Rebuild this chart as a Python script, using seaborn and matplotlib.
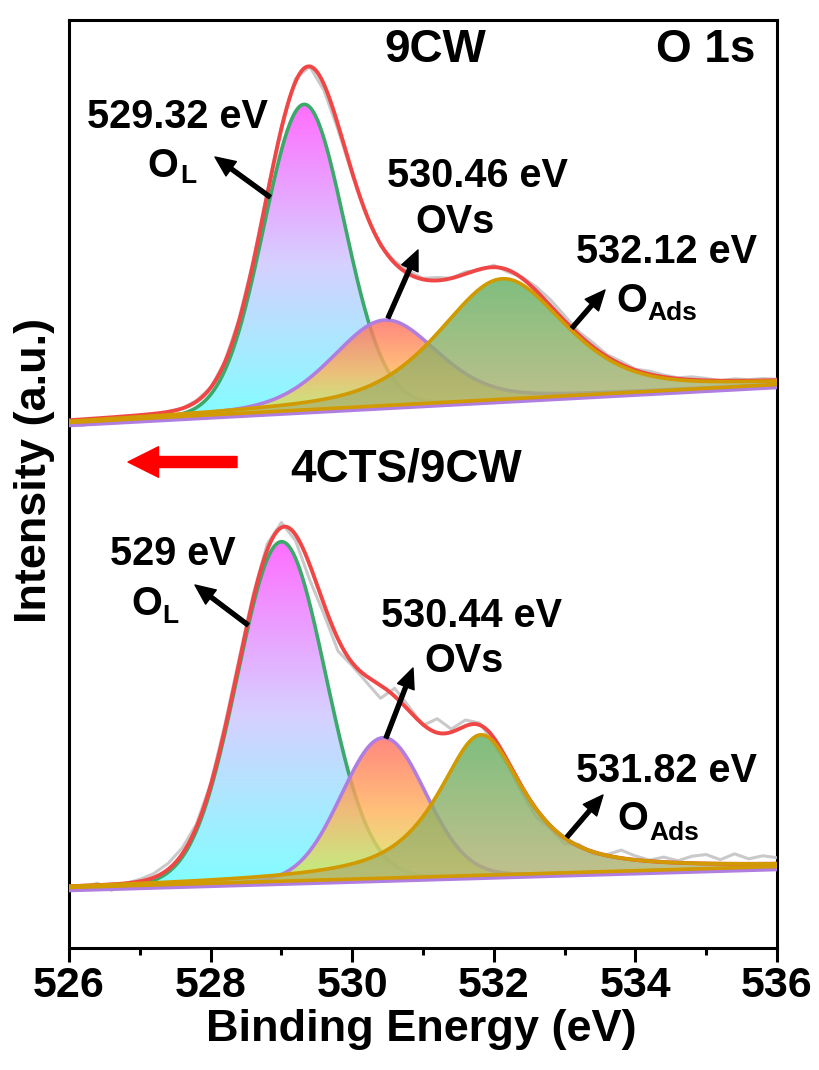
import numpy as np
import matplotlib
matplotlib.use("Agg")
import matplotlib.pyplot as plt
import seaborn as sns
from matplotlib.colors import LinearSegmentedColormap

# ---------------- data ----------------
X_MIN, X_MAX = 526, 536
X_TICKS = [526, 528, 530, 532, 534, 536]
X_MINOR = [527, 529, 531, 533, 535]

# upper spectrum: 9CW
TOP_BASELINE = [525, 563]            # linear background at 526 eV and 536 eV
TOP_CENTERS = [529.32, 530.46, 532.12]
TOP_HEIGHTS = [306, 86, 121]
TOP_FWHM = [1.34, 1.75, 2.10]
TOP_ETA = [0.0, 0.3, 0.5]            # Lorentzian fraction
# raw data minus fitted envelope, 526.0 ... 536.0 eV every 0.2 eV
TOP_RESIDUAL = [-4, -6, -3, -5, -4, -4, -2, 0, 0, 1,
                0, 1, 2, 2, 3, 2, 3, 0, -6, -5,
                -2, 0, -2, 2, 3, 1, 3, 0, 2, -1,
                2, -2, 1, 4, 6, 5, 3, 4, 2, 3,
                1, 3, 2, 1, 3, 2, 0, 2, 1, 2, 1]

# lower spectrum: 4CTS/9CW
BOT_BASELINE = [60, 81]
BOT_CENTERS = [529.00, 530.44, 531.82]
BOT_HEIGHTS = [340, 141, 141]
BOT_FWHM = [1.47, 1.39, 1.45]
BOT_ETA = [0.0, 0.0, 0.8]
BOT_RESIDUAL = [0, -2, 2, -6, 0, 2, 4, 6, 6, 3,
                2, 4, 4, 4, 6, 5, -6, -15, -10, -12,
                -3, -6, -13, 8, 4, -1, 14, 3, 6, 2,
                -5, -4, -6, -8, -3, -6, 2, -2, 1, 8,
                4, 1, 5, 2, 7, 9, 4, 10, 5, 8, 6]
RAW_STEP = 0.2

TOP_PEAK_TEXT = ["529.32 eV", "530.46 eV", "532.12 eV"]
BOT_PEAK_TEXT = ["529 eV", "530.44 eV", "531.82 eV"]

# ---------------- style ----------------
sns.set_theme(style="ticks")
plt.rcParams["font.family"] = ["Liberation Sans", "DejaVu Sans"]
plt.rcParams["font.weight"] = "bold"
plt.rcParams["axes.labelweight"] = "bold"
plt.rcParams["text.color"] = "black"
plt.rcParams["axes.labelcolor"] = "black"
plt.rcParams["xtick.color"] = "black"
plt.rcParams["xtick.labelcolor"] = "black"

W, H = 819, 1070
fig = plt.figure(figsize=(W / 100, H / 100), dpi=100)
AX_L, AX_R, AX_T, AX_B = 69, 777, 20, 948
ax = fig.add_axes([AX_L / W, 1 - AX_B / H, (AX_R - AX_L) / W, (AX_B - AX_T) / H])

C_GREEN = "#3aa96a"
C_PURPLE = "#b07ee0"
C_ORANGE = "#d09a00"
C_RED = "#f04646"
C_GRAY = "#c4c4c4"

GRADS = [
    ["#80ffff", "#d6d0ff", "#ff6eff"],          # O_L: cyan -> magenta
    ["#c8f564", "#ffb45c", "#ff6e62"],          # OVs: yellow-green -> salmon
    ["#b8b272", "#8eb068", "#5fae60"],          # O_Ads: olive -> green
]
EDGE = [C_GREEN, C_PURPLE, C_ORANGE]
FILL_ALPHA = [1.0, 0.82, 0.8]

E = np.linspace(X_MIN, X_MAX, 1001)
E_RAW = np.round(np.arange(X_MIN, X_MAX + 1e-6, RAW_STEP), 1)


def pvoigt(e, c, h, f, eta):
    d = (e - c) / f
    g = np.exp(-4 * np.log(2) * d ** 2)
    lo = 1 / (1 + 4 * d ** 2)
    return h * (eta * lo + (1 - eta) * g)


def background(e, b):
    return b[0] + (b[1] - b[0]) * (e - X_MIN) / (X_MAX - X_MIN)


def gradient_fill(x, ylow, yhigh, colors, alpha, z):
    poly = ax.fill_between(x, ylow, yhigh, facecolor="none", edgecolor="none")
    cmap = LinearSegmentedColormap.from_list("g", colors)
    grad = np.linspace(0, 1, 256).reshape(-1, 1)
    im = ax.imshow(grad, extent=[x.min(), x.max(), ylow.min(), yhigh.max()],
                   origin="lower", aspect="auto", cmap=cmap, alpha=alpha,
                   zorder=z, interpolation="bilinear")
    im.set_clip_path(poly.get_paths()[0], transform=ax.transData)


def spectrum(base, centers, heights, fwhm, eta, resid):
    bg = background(E, base)
    comps = [pvoigt(E, c, h, f, t) for c, h, f, t in zip(centers, heights, fwhm, eta)]
    env = bg + np.sum(comps, axis=0)
    for i, comp in enumerate(comps):
        z = 2 + 2 * i
        gradient_fill(E, bg, bg + comp, GRADS[i], FILL_ALPHA[i], z)
        sns.lineplot(x=E, y=bg + comp, ax=ax, color=EDGE[i], lw=2.6,
                     sort=False, estimator=None, zorder=z + 1 if i < 2 else 9)
    # raw data
    bg_r = background(E_RAW, base)
    env_r = bg_r + np.sum([pvoigt(E_RAW, c, h, f, t) for c, h, f, t in
                           zip(centers, heights, fwhm, eta)], axis=0)
    raw = env_r + np.array(resid)
    sns.lineplot(x=E_RAW, y=raw, ax=ax, color=C_GRAY, lw=2.2, alpha=0.9,
                 sort=False, estimator=None, zorder=3.5)
    sns.lineplot(x=E, y=env, ax=ax, color=C_RED, lw=2.8,
                 sort=False, estimator=None, zorder=8)
    sns.lineplot(x=E, y=bg - 2.5, ax=ax, color=C_PURPLE, lw=2.6,
                 sort=False, estimator=None, zorder=9.5)
    sns.lineplot(x=E, y=bg + 0.5, ax=ax, color=C_ORANGE, lw=2.6,
                 sort=False, estimator=None, zorder=10)


spectrum(TOP_BASELINE, TOP_CENTERS, TOP_HEIGHTS, TOP_FWHM, TOP_ETA, TOP_RESIDUAL)
spectrum(BOT_BASELINE, BOT_CENTERS, BOT_HEIGHTS, BOT_FWHM, BOT_ETA, BOT_RESIDUAL)

ax.set_xlim(X_MIN, X_MAX)
ax.set_ylim(0, AX_B - AX_T)
ax.set_xticks(X_TICKS)
ax.set_xticks(X_MINOR, minor=True)
ax.set_xticklabels([str(t) for t in X_TICKS])
ax.set_yticks([])
ax.tick_params(axis="x", which="major", direction="out", length=10, width=2.2,
               labelsize=31, pad=3, top=False, colors="black", labelcolor="black")
ax.tick_params(axis="x", which="minor", direction="out", length=5, width=2.2,
               top=False, colors="black")
for s in ax.spines.values():
    s.set_linewidth(2.2)
    s.set_color("black")
    s.set_visible(True)

ax.set_xlabel("Binding Energy (eV)", fontsize=32.5, fontweight="bold", color="black")
ax.set_ylabel("Intensity (a.u.)", fontsize=32.5, fontweight="bold", color="black")
ax.xaxis.set_label_coords((421 - AX_L) / (AX_R - AX_L), (AX_B - 1030) / (AX_B - AX_T))
ax.xaxis.label.set_va("center")
ax.yaxis.set_label_coords((35 - AX_L) / (AX_R - AX_L), (AX_B - 470) / (AX_B - AX_T))
ax.yaxis.label.set_va("center")


# ---------------- texts & arrows (pixel positions, top-left origin) ----------------
def txt(px, py, s, size, ha="center", color="black"):
    fig.text(px / W, 1 - py / H, s, fontsize=size, fontweight="bold",
             ha=ha, va="baseline", color=color)


def arrow(x0, y0, x1, y1, color="black", ms=15, hl=0.96, hw=0.85, tw=0.19):
    ax.annotate("", xy=(x1, H - y1), xytext=(x0, H - y0),
                xycoords="figure pixels", textcoords="figure pixels",
                arrowprops=dict(arrowstyle=f"simple,head_length={hl},head_width={hw},tail_width={tw}",
                                color=color, shrinkA=0, shrinkB=0,
                                mutation_scale=ms), zorder=20)


BIG = 33
MID = 28.5
SUB = 19

txt(435, 62, "9CW", BIG)
txt(706, 62, "O 1s", BIG)
txt(406, 481, "4CTS/9CW", BIG)
arrow(237, 462, 128, 462, color="#ff0000", ms=22, hl=1.0, hw=1.0, tw=0.36)

# upper labels
txt(177, 128, TOP_PEAK_TEXT[0], MID)
txt(163, 177, "O", MID)
txt(188, 183, "L", SUB)
arrow(270, 197, 215, 157)
txt(477, 187, TOP_PEAK_TEXT[1], MID)
txt(455, 233, "OVs", MID)
arrow(388, 318, 418, 250)
txt(667, 263, TOP_PEAK_TEXT[2], MID)
txt(632, 312, "O", MID)
txt(672, 320, "Ads", SUB)
arrow(572, 328, 605, 290)

# lower labels
txt(173, 565, BOT_PEAK_TEXT[0], MID)
txt(147, 615, "O", MID)
txt(170, 623, "L", SUB)
arrow(248, 625, 195, 585)
txt(472, 627, BOT_PEAK_TEXT[1], MID)
txt(464, 672, "OVs", MID)
arrow(386, 738, 413, 668)
txt(666, 782, BOT_PEAK_TEXT[2], MID)
txt(633, 830, "O", MID)
txt(674, 840, "Ads", SUB)
arrow(567, 837, 603, 795)

fig.savefig("out.png", dpi=100)
